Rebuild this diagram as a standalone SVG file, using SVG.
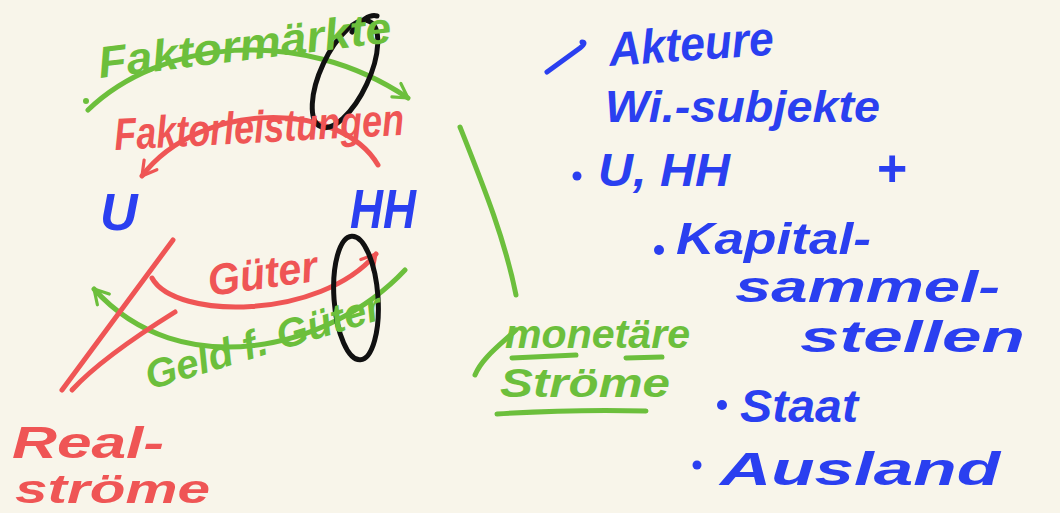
<svg xmlns="http://www.w3.org/2000/svg" width="1060" height="513" viewBox="0 0 1060 513">
<style>
.t{font-family:"Liberation Sans",Arial,sans-serif;font-weight:bold;font-style:italic}
.g{fill:#6cbf3c}.r{fill:#ef5555}.b{fill:#2a3ff0}
.sg{stroke:#6cbf3c}.sr{stroke:#ef5555}.sb{stroke:#2a3ff0}.sk{stroke:#111}
.ln{fill:none;stroke-width:5;stroke-linecap:round;stroke-linejoin:round}
</style>
<defs>
<marker id="ag" viewBox="0 0 10 10" refX="8" refY="5" markerWidth="4" markerHeight="4" orient="auto" markerUnits="strokeWidth"><path d="M1,1 L8,5 L1,9" fill="none" stroke="#6cbf3c" stroke-width="1.6" stroke-linecap="round" stroke-linejoin="round"/></marker>
<marker id="ar" viewBox="0 0 10 10" refX="8" refY="5" markerWidth="4" markerHeight="4" orient="auto" markerUnits="strokeWidth"><path d="M1,1 L8,5 L1,9" fill="none" stroke="#ef5555" stroke-width="1.6" stroke-linecap="round" stroke-linejoin="round"/></marker>
</defs>
<rect width="1060" height="513" fill="#f8f5ea"/>
<g id="connectors">
<path class="ln sg" d="M88,110 C160,40 300,25 408,98" marker-end="url(#ag)"/>
<circle cx="86" cy="101" r="3" fill="#6cbf3c"/>
<path class="ln sr" d="M378,165 C340,100 200,100 142,176" marker-end="url(#ar)"/>
<path class="ln sr" d="M152,278 C175,320 320,320 376,254" marker-end="url(#ar)"/>
<path class="ln sg" d="M405,270 C330,350 180,385 94,289" marker-end="url(#ag)"/>
<path class="ln sr" d="M173,240 L62,390" stroke-width="4"/>
<path class="ln sr" d="M175,312 C130,340 95,365 72,390" stroke-width="4"/>
<path class="ln sg" d="M460,127 C485,190 505,240 516,295" stroke-width="4"/>
<path class="ln sg" d="M516,330 C500,345 482,358 475,375"/>
<path class="ln sg" d="M512,358 L576,355 M626,358 L662,357"/>
<path class="ln sg" d="M497,414 C560,410 610,410 646,411"/>
<path class="ln sb" d="M547,72 L580,48 C585,44 585,42 582,42" stroke-width="6"/>
</g>
<g id="marks">
<ellipse cx="345" cy="74" rx="24" ry="58" transform="rotate(25 345 74)" class="ln sk"/>
<path class="ln sk" d="M352,32 C360,20 370,14 377,16"/>
<ellipse cx="356" cy="298" rx="22" ry="62" transform="rotate(-4 356 298)" class="ln sk"/>
</g>
<g id="node-U"><text class="t b" x="100" y="230" font-size="52">U</text></g>
<g id="node-HH"><text class="t b" x="350" y="228" font-size="56" textLength="66" lengthAdjust="spacingAndGlyphs">HH</text></g>
<g id="label-faktormaerkte"><text class="t g" x="100" y="78" font-size="44" textLength="295" lengthAdjust="spacingAndGlyphs" transform="rotate(-7 100 78)">Faktormärkte</text></g>
<g id="label-faktorleistungen"><text class="t r" x="115" y="150" font-size="45" textLength="290" lengthAdjust="spacingAndGlyphs" transform="rotate(-3 115 150)">Faktorleistungen</text></g>
<g id="label-gueter"><text class="t r" x="210" y="296" font-size="44" textLength="110" lengthAdjust="spacingAndGlyphs" transform="rotate(-8 210 296)">Güter</text></g>
<g id="label-geld"><text class="t g" x="150" y="390" font-size="40" textLength="245" lengthAdjust="spacingAndGlyphs" transform="rotate(-17 150 390)">Geld f. Güter</text></g>
<g id="label-realstroeme">
<text class="t r" x="12" y="458" font-size="44" textLength="152" lengthAdjust="spacingAndGlyphs">Real-</text>
<text class="t r" x="15" y="503" font-size="40" textLength="195" lengthAdjust="spacingAndGlyphs">ströme</text>
</g>
<g id="label-monetaere">
<text class="t g" x="505" y="348" font-size="40" textLength="185" lengthAdjust="spacingAndGlyphs">monetäre</text>
<text class="t g" x="500" y="397" font-size="40" textLength="170" lengthAdjust="spacingAndGlyphs">Ströme</text>
</g>
<g id="akteure">
<text class="t b" x="610" y="66" font-size="48" textLength="165" lengthAdjust="spacingAndGlyphs" transform="rotate(-4 610 66)">Akteure</text>
<text class="t b" x="605" y="122" font-size="44" textLength="275" lengthAdjust="spacingAndGlyphs">Wi.-subjekte</text>
<circle cx="577" cy="176" r="4.5" fill="#2a3ff0"/>
<text class="t b" x="598" y="186" font-size="46" textLength="132" lengthAdjust="spacingAndGlyphs">U, HH</text>
<text class="t b" x="876" y="186" font-size="52">+</text>
<circle cx="659" cy="250" r="5" fill="#2a3ff0"/>
<text class="t b" x="676" y="254" font-size="44" textLength="195" lengthAdjust="spacingAndGlyphs">Kapital-</text>
<text class="t b" x="735" y="302" font-size="44" textLength="265" lengthAdjust="spacingAndGlyphs">sammel-</text>
<text class="t b" x="800" y="352" font-size="44" textLength="225" lengthAdjust="spacingAndGlyphs">stellen</text>
<circle cx="722" cy="405" r="5" fill="#2a3ff0"/>
<text class="t b" x="740" y="422" font-size="46" textLength="118" lengthAdjust="spacingAndGlyphs">Staat</text>
<circle cx="697" cy="465" r="4.5" fill="#2a3ff0"/>
<text class="t b" x="720" y="485" font-size="46" textLength="280" lengthAdjust="spacingAndGlyphs">Ausland</text>
</g>
</svg>
